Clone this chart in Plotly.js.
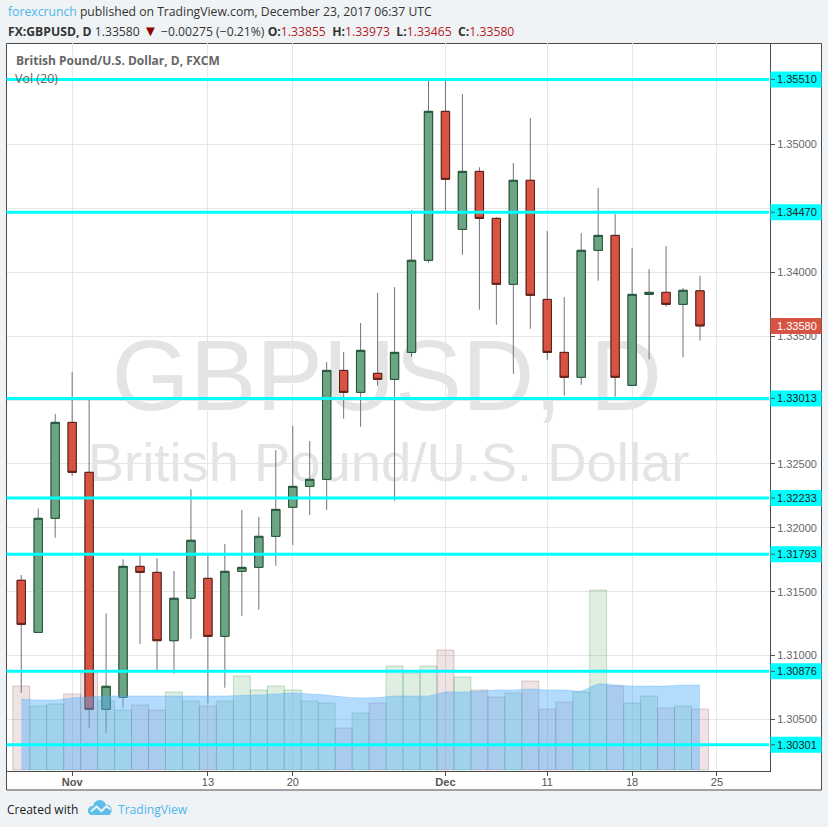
<!DOCTYPE html>
<html>
<head>
<meta charset="utf-8">
<script src="https://cdn.plot.ly/plotly-3.0.1.min.js"></script>
<style>html,body{margin:0;padding:0;background:#f0f3f6;overflow:hidden}#chart{width:828px;height:827px}</style>
</head>
<body>
<div id="chart"></div>
<script>
// Daily GBP/USD session data, oldest first
const open = [1.31589,1.31181,1.32074,1.32825,1.32434,1.30579,1.30673,1.31698,1.31651,1.31116,1.31448,1.31604,1.31150,1.31659,1.31690,1.31933,1.32160,1.32324,1.32379,1.33232,1.33060,1.33209,1.33162,1.33373,1.34094,1.35260,1.34336,1.34790,1.34422,1.33906,1.34720,1.33788,1.33373,1.33178,1.34172,1.34289,1.33115,1.33827,1.33843,1.33749,1.33855];
const high = [1.31630,1.32152,1.32890,1.33219,1.33000,1.31330,1.31753,1.31779,1.31761,1.31661,1.32301,1.31779,1.31873,1.32139,1.32084,1.32609,1.32796,1.32679,1.33297,1.33376,1.33603,1.33838,1.33884,1.34487,1.35505,1.35505,1.35395,1.34822,1.34432,1.34855,1.35207,1.34323,1.33806,1.34307,1.34659,1.34456,1.34190,1.34025,1.34205,1.33877,1.33973];
const low = [1.30709,1.31176,1.31922,1.32407,1.30435,1.30396,1.30591,1.31090,1.30886,1.30857,1.31131,1.30626,1.30748,1.31311,1.31358,1.31703,1.31865,1.32100,1.32139,1.32854,1.32791,1.33112,1.32212,1.33339,1.34075,1.34479,1.34137,1.33707,1.33589,1.33206,1.33558,1.33315,1.33034,1.33120,1.33934,1.33026,1.33115,1.33319,1.33730,1.33334,1.33465];
const close = [1.31244,1.32074,1.32825,1.32434,1.30579,1.30759,1.31698,1.31651,1.31116,1.31448,1.31902,1.31150,1.31659,1.31690,1.31933,1.32144,1.32324,1.32379,1.33232,1.33060,1.33389,1.33162,1.33373,1.34094,1.35260,1.34728,1.34790,1.34422,1.33906,1.34720,1.33820,1.33373,1.33178,1.34172,1.34289,1.33178,1.33827,1.33843,1.33749,1.33859,1.33580];
const volume = [84,64,66,76,97,69,60,65,60,78,69,64,69,94,80,84,80,69,67,42,57,67,104,97,104,120,93,80,73,77,89,61,68,78,180,84,67,74,62,64,61];
const volumeMA = [71,70,70,72,73,74,74,74,74,74,74,74,74,74.5,75,76,77,76,75,73,72,72.5,74,74,74,78,78,79,80,80,81,80,80,79,86,85,84,84,84,85,85];
const levels = [1.35510,1.34470,1.33013,1.32233,1.31793,1.30876,1.30301];
const levelLabels = ["1.35510","1.34470","1.33013","1.32233","1.31793","1.30876","1.30301"];
const tickIndex = [3,11,16,25,31,36,41];
const tickLabels = ["<b>Nov</b>","13","20","<b>Dec</b>","11","18","25"];
const priceTicks = [1.305,1.31,1.315,1.32,1.325,1.33,1.335,1.34,1.345,1.35];
const priceTickLabels = ["1.30500","1.31000","1.31500","1.32000","1.32500","","1.33500","1.34000","","1.35000"];
const lastPrice = 1.33580;
const lastLabel = "1.33580";

const W = 828, H = 827, L = 7, R = 770, T = 43, B = 771;
const px = x => (x - L) / (R - L);
const py = y => (B - y) / (B - T);
const idx = open.map((_, i) => i);
const UP = "#6BA583", UPB = "#225437", DN = "#D75442", DNB = "#5B1A13", WICK = "#737375";
const AX = "#4c4c4c", CY = "#00FFFF";
const isUp = idx.map(i => close[i] >= open[i]);
const SANS = '"Open Sans", sans-serif';
const ARIAL = '"Liberation Sans", Arial, sans-serif';

const traces = [
  {type:"bar", x:idx, y:volume, xaxis:"x", yaxis:"y", width:1, hoverinfo:"skip", showlegend:false,
   marker:{color:isUp.map(u => u ? "rgba(90,170,105,0.20)" : "rgba(140,60,60,0.14)"),
           line:{width:1, color:isUp.map(u => u ? "rgba(70,150,90,0.30)" : "rgba(130,50,50,0.24)")}}},
  {type:"scatter", mode:"text", x:[21.55,21.65], y:[385,303], xaxis:"x", yaxis:"y", hoverinfo:"skip", showlegend:false,
   text:["GBPUSD, D","British Pound/U.S. Dollar"], textposition:"middle center",
   textfont:{family:ARIAL, size:[100,54.4], color:"#e4e4e4"}},
  {type:"candlestick", x:idx, open:open, high:high, low:low, close:close, xaxis:"x", yaxis:"y2", width:0.02, hoverinfo:"skip", showlegend:false,
   increasing:{line:{color:WICK,width:1},fillcolor:WICK}, decreasing:{line:{color:WICK,width:1},fillcolor:WICK}},
  {type:"candlestick", x:idx, open:open, close:close,
   high:idx.map(i => Math.max(open[i],close[i])), low:idx.map(i => Math.min(open[i],close[i])),
   xaxis:"x", yaxis:"y2", width:0.65, hoverinfo:"skip", showlegend:false,
   increasing:{line:{color:UPB,width:1},fillcolor:UP}, decreasing:{line:{color:DNB,width:1},fillcolor:DN}},
  {type:"scatter", mode:"lines", x:idx, y:volumeMA, xaxis:"x", yaxis:"y3", fill:"tozeroy", hoverinfo:"skip", showlegend:false,
   fillcolor:"rgba(85,175,250,0.45)", line:{color:"rgba(85,175,250,0.35)", width:1, shape:"spline", smoothing:0.6}}
];

const shapes = [
  {type:"rect", layer:"below", xref:"paper", yref:"paper", x0:px(6.5), x1:px(821.5), y0:py(790), y1:py(43.5), fillcolor:"#ffffff", line:{color:AX,width:1}}
];
levels.forEach(v => {
  shapes.push({type:"line", xref:"paper", yref:"y2", x0:px(6.5), x1:px(769), y0:v, y1:v, line:{color:CY,width:3}});
  shapes.push({type:"rect", xref:"paper", yref:"y2", ysizemode:"pixel", yanchor:v, y0:-8, y1:8, x0:px(770.5), x1:px(821.5), fillcolor:CY, line:{width:0}});
  shapes.push({type:"line", xref:"paper", yref:"y2", x0:px(771), x1:px(775), y0:v, y1:v, line:{color:"#555555",width:1}});
});
shapes.push({type:"rect", xref:"paper", yref:"y2", ysizemode:"pixel", yanchor:lastPrice, y0:-8, y1:8, x0:px(770.5), x1:px(821.5), fillcolor:DN, line:{width:0}});
// TradingView logo
const toPath = pts => "M" + pts.map(p => px(p[0]).toFixed(5) + "," + py(p[1]).toFixed(5)).join("L") + "Z";
shapes.push({type:"path", xref:"paper", yref:"paper", fillcolor:"#5bbfe8", line:{width:0},
  path:toPath([[88,812],[88,809],[90,806.5],[93,806],[94,803],[97,800.5],[101,800],[104,801.5],[106,804.5],[109,805],[111.5,808],[111.5,812],[109.5,815],[90,815]])});
shapes.push({type:"path", xref:"paper", yref:"paper", fillcolor:"rgba(0,0,0,0)", line:{color:"#f0f3f6",width:2},
  path:"M" + px(91).toFixed(5)+","+py(811.5).toFixed(5)+"L"+px(96.5).toFixed(5)+","+py(806.5).toFixed(5)+"L"+px(101.5).toFixed(5)+","+py(811).toFixed(5)+"L"+px(106.5).toFixed(5)+","+py(806).toFixed(5)+"L"+px(110.5).toFixed(5)+","+py(809.5).toFixed(5)});

const txt = (x, y, text, size, color, family) => ({xref:"paper", yref:"paper", x:px(x), y:py(y), text, showarrow:false,
  xanchor:"left", yanchor:"middle", align:"left", font:{family:family||SANS, size, color}});
const NB = "\u00A0";
const annotations = [
  txt(5.5, 11.5, '<span style="color:#4db6e8">forexcrunch</span> published on TradingView.com, December 23, 2017 06:37 UTC', 12.2, "#333333"),
  txt(5.5, 30, '<b>FX:GBPUSD, D</b> 1.33580 <span style="color:#8b0000;font-size:15px">▼</span> −0.00275 (−0.21%) <b>O:</b><span style="color:#b71c1c">1.33855</span>'+NB+' <b>H:</b><span style="color:#b71c1c">1.33973</span>'+NB+' <b>L:</b><span style="color:#b71c1c">1.33465</span>'+NB+' <b>C:</b><span style="color:#b71c1c">1.33580</span>', 12.2, "#333333"),
  txt(13.5, 60, "<b>British Pound/U.S. Dollar, D, FXCM</b>", 12, "#666666"),
  txt(12.5, 78, "Vol (20)", 12.5, "#666666"),
  txt(4.5, 809.5, "Created with", 12, "#222222"),
  txt(116, 809.5, "TradingView", 12.1, "#4db6e8")
];
levels.forEach((v,i) => annotations.push({xref:"paper", yref:"y2", x:px(777), y:v, text:levelLabels[i], showarrow:false, xanchor:"left", yanchor:"middle", font:{family:ARIAL,size:11,color:"#222222"}, xshift:-2}));
annotations.push({xref:"paper", yref:"y2", x:px(777), y:lastPrice, text:lastLabel, showarrow:false, xanchor:"left", yanchor:"middle", font:{family:ARIAL,size:11,color:"#ffffff"}, xshift:-2});

const layout = {
  width:W, height:H, margin:{l:L, r:W-R, t:T, b:H-B, pad:0},
  paper_bgcolor:"#f0f3f6", plot_bgcolor:"rgba(0,0,0,0)", showlegend:false, bargap:0, barmode:"overlay",
  dragmode:false, hovermode:false,
  xaxis:{range:[-0.84,44.126], tickmode:"array", tickvals:tickIndex, ticktext:tickLabels, showgrid:true, gridcolor:"#e6e6e6", gridwidth:1,
    zeroline:false, showline:true, linecolor:AX, linewidth:1, ticks:"outside", ticklen:4, tickcolor:AX, rangeslider:{visible:false},
    ticklabelstandoff:-3, tickfont:{family:ARIAL,size:11,color:"#555555"}, fixedrange:true},
  yaxis:{range:[-1,727], visible:false, fixedrange:true},
  yaxis2:{overlaying:"y", side:"right", anchor:"x", range:[1.30096,1.35795], tickmode:"array", tickvals:priceTicks, ticktext:priceTickLabels, showgrid:true, gridcolor:"#e6e6e6", gridwidth:1,
    zeroline:false, showline:true, linecolor:AX, linewidth:1, ticks:"outside", ticklen:4, tickcolor:"#555555",
    tickfont:{family:ARIAL,size:11,color:"#666666"}, fixedrange:true},
  yaxis3:{overlaying:"y", range:[-1,727], visible:false, fixedrange:true},
  shapes, annotations
};
Plotly.newPlot("chart", traces, layout, {displayModeBar:false, staticPlot:true});
</script>
</body>
</html>
